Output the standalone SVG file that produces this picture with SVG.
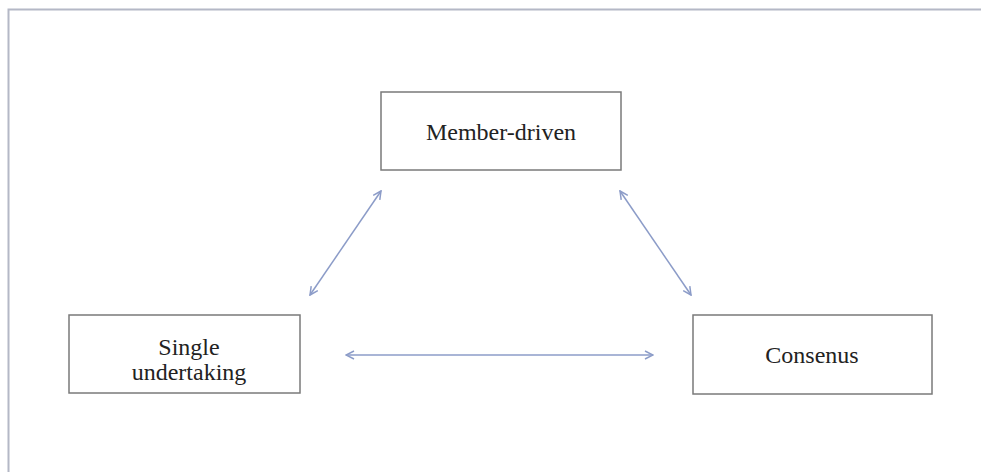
<svg xmlns="http://www.w3.org/2000/svg" width="981" height="472" viewBox="0 0 981 472">
<defs>
<style>
.box{fill:#fff;stroke:#7a7a7a;stroke-width:1.5}
.lbl{font-family:"Liberation Serif","Times New Roman",serif;font-size:24px;fill:#222;text-anchor:middle}
.conn{stroke:#8c9cc8;stroke-width:1.5;fill:none;marker-start:url(#ah);marker-end:url(#ah)}
</style>
<marker id="ah" viewBox="0 0 10 10" refX="9" refY="5" markerWidth="10" markerHeight="10" markerUnits="userSpaceOnUse" orient="auto-start-reverse">
<path d="M1,1 L9,5 L1,9" fill="none" stroke="#8c9cc8" stroke-width="1.5"/>
</marker>
</defs>
<rect x="0" y="0" width="981" height="472" fill="#fff"/>
<path d="M8.5,472 V9.5 H981" fill="none" stroke="#b4b8c6" stroke-width="2"/>
<g id="member-driven">
<rect class="box" x="381" y="92" width="240" height="78"/>
<text class="lbl" x="501" y="140">Member-driven</text>
</g>
<g id="single-undertaking">
<rect class="box" x="69" y="315" width="231" height="78"/>
<text class="lbl" x="189" y="355">Single</text>
<text class="lbl" x="189" y="380">undertaking</text>
</g>
<g id="consenus">
<rect class="box" x="693" y="315" width="239" height="79"/>
<text class="lbl" x="812" y="363">Consenus</text>
</g>
<g id="connectors">
<line class="conn" x1="310" y1="295" x2="381" y2="191"/>
<line class="conn" x1="620" y1="191" x2="691" y2="295"/>
<line class="conn" x1="346" y1="355" x2="653" y2="355"/>
</g>
</svg>
